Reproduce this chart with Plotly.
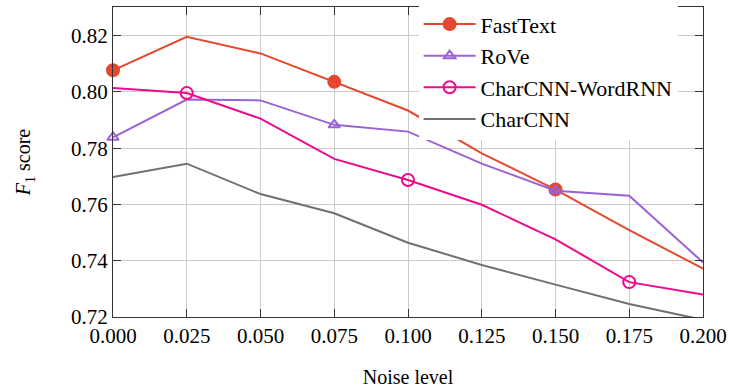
import plotly.graph_objects as go

noise = [0.0, 0.025, 0.05, 0.075, 0.1, 0.125, 0.15, 0.175, 0.2]
fasttext = [0.8077, 0.8196, 0.8137, 0.8036, 0.7934, 0.7782, 0.7653, 0.7509, 0.7372]
rove = [0.7839, 0.7973, 0.7970, 0.7883, 0.7859, 0.7745, 0.7649, 0.7631, 0.7394]
charcnn_wordrnn = [0.8014, 0.7996, 0.7905, 0.7762, 0.7687, 0.7599, 0.7476, 0.7324, 0.7280]
charcnn = [0.7698, 0.7745, 0.7637, 0.7569, 0.7464, 0.7385, 0.7315, 0.7246, 0.7190]
x_ticks = [0.0, 0.025, 0.05, 0.075, 0.1, 0.125, 0.15, 0.175, 0.2]
x_tick_labels = ["0.000", "0.025", "0.050", "0.075", "0.100", "0.125", "0.150", "0.175", "0.200"]
y_ticks = [0.72, 0.74, 0.76, 0.78, 0.80, 0.82]
y_tick_labels = ["0.72", "0.74", "0.76", "0.78", "0.80", "0.82"]

FONT = "Liberation Serif"
series = [
    ("FastText", fasttext, "#e5482f", "circle", 12, 0),
    ("RoVe", rove, "#9a62d4", "triangle-up-open", 10, 0),
    ("CharCNN-WordRNN", charcnn_wordrnn, "#ee0a8c", "circle-open", 12, 1),
    ("CharCNN", charcnn, "#707070", None, 0, 0),
]

fig = go.Figure()
for name, vals, color, sym, size, phase in series:
    fig.add_trace(go.Scatter(x=noise, y=vals, mode="lines", name=name,
                             line=dict(color=color, width=2), showlegend=False,
                             legendgroup=name))
    if sym:
        mx = [noise[i] for i in range(phase, len(noise), 3)]
        my = [vals[i] for i in range(phase, len(vals), 3)]
        fig.add_trace(go.Scatter(x=mx, y=my, mode="markers", showlegend=False,
                                 legendgroup=name, cliponaxis=False,
                                 marker=dict(symbol=sym, size=size, color=color,
                                             line=dict(color=color, width=2))))
    fig.add_trace(go.Scatter(x=[None], y=[None], name=name, legendgroup=name,
                             mode="lines+markers" if sym else "lines",
                             line=dict(color=color, width=2),
                             marker=dict(symbol=sym or "circle", size=size, color=color,
                                         line=dict(color=color, width=2))))

axis_common = dict(showgrid=True, gridcolor="#cccccc", gridwidth=1,
                   showline=True, linecolor="#333333", linewidth=1.2, mirror="ticks",
                   ticks="inside", ticklen=8, tickcolor="#333333", automargin=False,
                   tickfont=dict(family=FONT, size=21, color="black"), zeroline=False)

fig.update_xaxes(range=[0, 0.2], tickvals=x_ticks, ticktext=x_tick_labels,
                 title=dict(text="Noise level", font=dict(family=FONT, size=20, color="black"), standoff=32),
                 **axis_common)
fig.update_yaxes(range=[0.72, 0.8302], tickvals=y_ticks, ticktext=y_tick_labels,
                 title=dict(text="<i>F</i><sub>1</sub> score", font=dict(family=FONT, size=20, color="black"), standoff=34),
                 **axis_common)

fig.update_layout(
    width=729, height=388,
    margin=dict(l=113, r=26, t=3, b=71),
    plot_bgcolor="white", paper_bgcolor="white",
    font=dict(family=FONT, size=20, color="black"),
    legend=dict(x=0.518, y=1.012, xanchor="left", yanchor="top",
                bgcolor="white", borderwidth=0, itemwidth=52,
                font=dict(family=FONT, size=22, color="black"), tracegroupgap=0),
)

fig.write_html("out.html", config={"displayModeBar": False},
               post_script="document.body.style.margin='0';")
